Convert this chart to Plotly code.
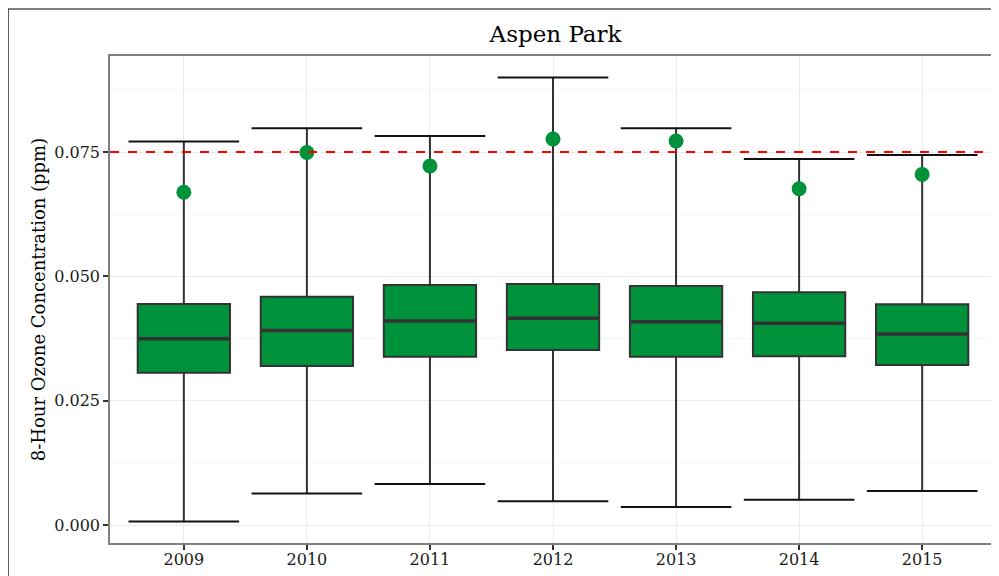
import plotly.graph_objects as go

years = [2009, 2010, 2011, 2012, 2013, 2014, 2015]
y_min = [0.00074, 0.00637, 0.00825, 0.0048, 0.00362, 0.0051, 0.00684]
q1 = [0.03064, 0.0320, 0.03386, 0.0352, 0.03386, 0.03393, 0.03218]
median = [0.03747, 0.0391, 0.04103, 0.04157, 0.04089, 0.04056, 0.03841]
q3 = [0.04445, 0.0459, 0.04827, 0.04847, 0.04807, 0.0468, 0.04438]
y_max = [0.0771, 0.0798, 0.0782, 0.0900, 0.0798, 0.0736, 0.0744]
fourth_max = [0.0669, 0.0749, 0.0722, 0.0776, 0.0772, 0.0676, 0.0705]
standard = 0.075

GREEN = "#00923a"
DARK = "#333333"
FONT = "DejaVu Serif"

fig = go.Figure()

fig.add_trace(go.Box(
    x=years, q1=q1, median=median, q3=q3,
    lowerfence=y_min, upperfence=y_max,
    width=0.75, whiskerwidth=0,
    fillcolor=GREEN, line=dict(color=DARK, width=2),
    boxpoints=False, showlegend=False,
))

# whisker caps
fig.add_trace(go.Scatter(
    x=years + years, y=y_max + y_min, mode="markers",
    marker=dict(symbol="line-ew", size=79, color="#111111",
                line=dict(color="#111111", width=2)),
    showlegend=False, hoverinfo="skip",
))

# thick median line
fig.add_trace(go.Scatter(
    x=years, y=median, mode="markers",
    marker=dict(size=1, opacity=0),
    error_x=dict(type="constant", value=0.37, width=0, thickness=3.5, color=DARK),
    showlegend=False, hoverinfo="skip",
))

# 4th max points
fig.add_trace(go.Scatter(
    x=years, y=fourth_max, mode="markers",
    marker=dict(size=15, color=GREEN),
    showlegend=False,
))

fig.add_hline(y=standard, line=dict(color="#ff0000", width=1.8, dash="dash"))

# outer figure border (cropped)
fig.add_shape(type="rect", xref="paper", yref="paper",
              x0=-0.1151, x1=1.2, y0=-0.3, y1=1.0965,
              line=dict(color="#000000", width=1.2), layer="above")

fig.update_layout(
    width=991, height=568,
    margin=dict(l=102, r=1, t=48, b=33),
    paper_bgcolor="white", plot_bgcolor="white",
    font=dict(family=FONT, color="#1a1a1a", size=16),
    title=dict(text="Aspen Park", x=0.5525, xanchor="center",
               y=0.955, yanchor="middle",
               font=dict(family=FONT, size=23, color="#000000")),
    xaxis=dict(
        range=[2008.4, 2015.6], tickvals=years, ticktext=[str(y) for y in years],
        showgrid=True, gridcolor="#ebebeb", gridwidth=1,
        zeroline=False, showline=True, mirror=True, linecolor="#7f7f7f", linewidth=1.5,
        ticks="outside", ticklen=5, tickcolor=DARK, tickwidth=1.5,
        ticklabelstandoff=-4,
        tickfont=dict(family=FONT, size=16, color="#1a1a1a"),
    ),
    yaxis=dict(
        range=[-0.0036, 0.0943], tickvals=[0, 0.025, 0.05, 0.075],
        tickformat=".3f",
        showgrid=True, gridcolor="#ebebeb", gridwidth=1,
        minor=dict(dtick=0.0125, tick0=0, showgrid=True, gridcolor="#f7f7f7", gridwidth=1),
        zeroline=False, showline=True, mirror=True, linecolor="#7f7f7f", linewidth=1.5,
        ticks="outside", ticklen=5, tickcolor=DARK, tickwidth=1.5,
        tickfont=dict(family=FONT, size=16, color="#1a1a1a"),
        title=dict(text="8-Hour Ozone Concentration (ppm)", standoff=4,
                   font=dict(family=FONT, size=18, color="#000000")),
    ),
)

fig.write_html("out.html")
